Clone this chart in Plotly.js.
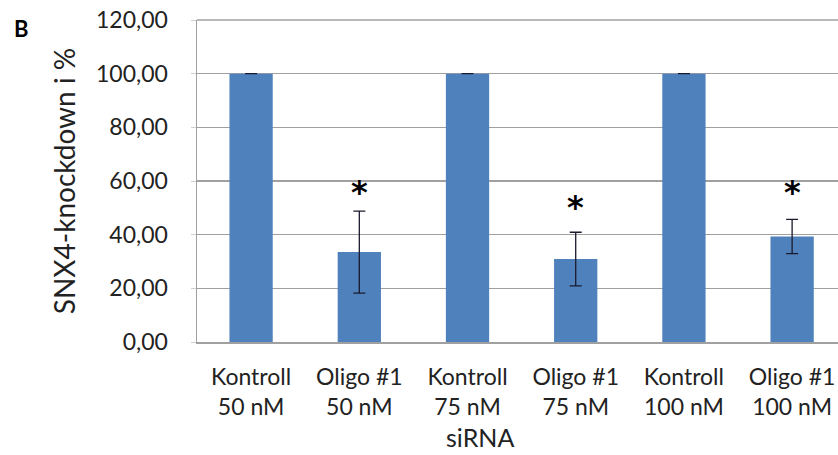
<!DOCTYPE html>
<html>
<head>
<meta charset="utf-8">
<script src="https://cdn.plot.ly/plotly-3.0.1.min.js"></script>
<style>html,body{margin:0;padding:0;background:#fff;}#chart{width:838px;height:455px;}</style>
</head>
<body>
<div id="chart"></div>
<script>
const categories = ["Kontroll<br>50 nM", "Oligo #1<br>50 nM", "Kontroll<br>75 nM", "Oligo #1<br>75 nM", "Kontroll<br>100 nM", "Oligo #1<br>100 nM"];
const knockdown = [100, 33.5, 100, 30.9, 100, 39.3];
const errors = [0, 15.3, 0, 10.0, 0, 6.4];
const starCategories = ["Oligo #1<br>50 nM", "Oligo #1<br>75 nM", "Oligo #1<br>100 nM"];
const starY = [58, 52.4, 58];
const yTicks = [0, 20, 40, 60, 80, 100, 120];

const font = "Lato, 'Open Sans', sans-serif";

const trace = {
  type: "bar",
  x: categories,
  y: knockdown,
  width: 0.4,
  marker: {color: "#4F81BD"},
  error_y: {type: "data", array: errors, visible: true, color: "#1a1a2e", thickness: 1.3, width: 6},
  hoverinfo: "none"
};

const annotations = starCategories.map((c, i) => ({
  x: c, y: starY[i], xref: "x", yref: "y", text: "<b>*</b>", showarrow: false,
  font: {family: "'DejaVu Sans', sans-serif", size: 32, color: "#000"}, yanchor: "middle", yshift: -6
}));
annotations.push({
  x: 21, y: 28, xref: "pixel", yref: "pixel", text: "<b>B</b>", showarrow: false,
  font: {family: font, size: 22, color: "#000"}
});
annotations.push({
  x: 480, y: 437, xref: "pixel", yref: "pixel", text: "siRNA", showarrow: false,
  font: {family: font, size: 25, color: "#222"}
});
const W = 838, H = 455, ml = 197, mr = 0, mt = 20, mb = 113;
annotations.forEach(a => {
  if (a.xref === "pixel") {
    a.xref = "paper"; a.yref = "paper";
    a.x = (a.x - ml) / (W - ml - mr);
    a.y = (H - mb - a.y) / (H - mt - mb);
    a.xanchor = "center"; a.yanchor = "middle";
  }
});

const layout = {
  width: W, height: H,
  margin: {l: ml, r: mr, t: mt, b: mb, pad: 0},
  paper_bgcolor: "#fff", plot_bgcolor: "#fff",
  showlegend: false,
  separators: ",.",
  xaxis: {
    type: "category",
    range: [-0.5, 5.424],
    showgrid: false,
    showline: true, linecolor: "#a0a0a0", linewidth: 1.5,
    ticks: "",
    tickfont: {family: font, size: 23, color: "#222"},
    ticklabelstandoff: 14,
    fixedrange: true
  },
  yaxis: {
    range: [0, 120],
    tickvals: yTicks,
    tickformat: ".2f",
    showgrid: true, gridcolor: "#a0a0a0", gridwidth: 1.3,
    showline: true, linecolor: "#a0a0a0", linewidth: 1.5,
    zeroline: false,
    ticks: "outside", ticklen: 5, tickcolor: "#d0d0d0",
    tickfont: {family: font, size: 23, color: "#222"},
    ticklabelstandoff: 18,
    title: {text: "SNX4-knockdown i %", font: {family: font, size: 28, color: "#222"}, standoff: 12},
    fixedrange: true
  },
  shapes: [{type: "line", xref: "paper", yref: "paper", x0: 0, x1: 1, y0: 1, y1: 1, line: {color: "#a0a0a0", width: 1.5}}],
  annotations: annotations
};

Plotly.newPlot("chart", [trace], layout, {displayModeBar: false, staticPlot: true});
</script>
</body>
</html>
